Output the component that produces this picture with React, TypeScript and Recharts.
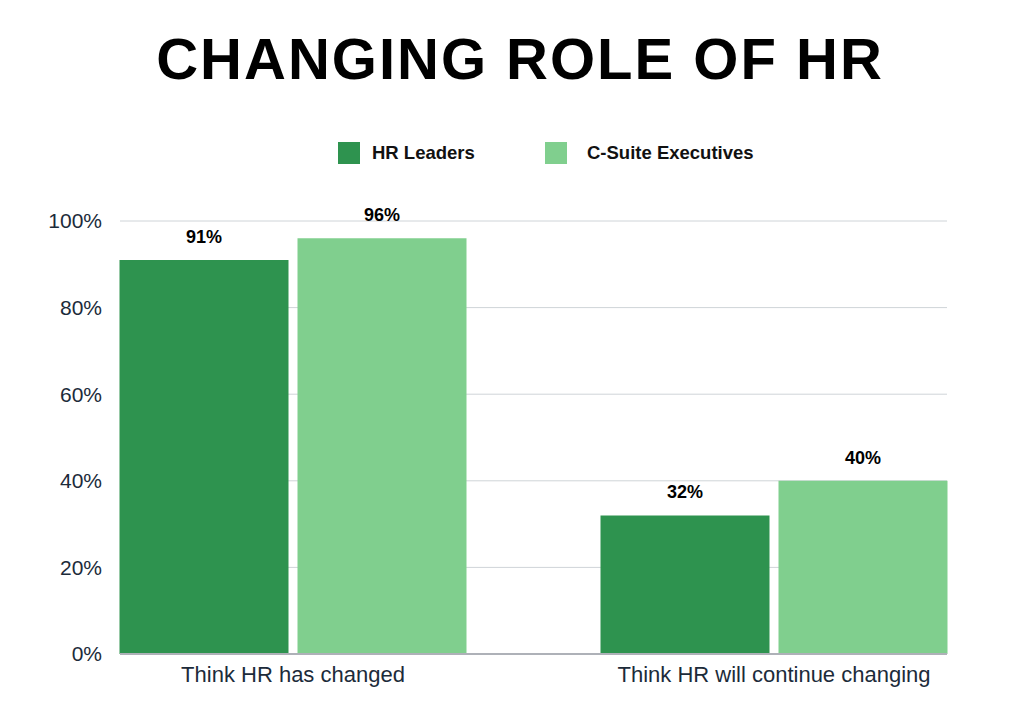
import React from "react";
import { BarChart, Bar, XAxis, YAxis, CartesianGrid, LabelList } from "recharts";

const categories = ["Think HR has changed", "Think HR will continue changing"];
const hrLeaders = [91, 32];
const cSuite = [96, 40];
const yTicks = [0, 20, 40, 60, 80, 100];

const DARK = "#2e934f";
const LIGHT = "#80cf8e";
const FONT = "'Liberation Sans', Arial, sans-serif";

const data = categories.map((name, i) => ({
  name,
  hr: hrLeaders[i],
  csuite: cSuite[i],
}));

function LegendBox() {
  const item = (color: string, label: string, left: number, gap: number) => (
    <div style={{ position: "absolute", left, top: 142, display: "flex", alignItems: "center" }}>
      <div style={{ width: 22, height: 22, background: color }} />
      <span style={{ marginLeft: gap, fontSize: 18.5, fontWeight: 700, fontFamily: FONT, color: "#111" }}>
        {label}
      </span>
    </div>
  );
  return (
    <>
      {item(DARK, "HR Leaders", 338, 12)}
      {item(LIGHT, "C-Suite Executives", 545, 20)}
    </>
  );
}

export default function App() {
  return (
    <div style={{ position: "absolute", left: 0, top: 0, width: 1024, height: 706, background: "#fff" }}>
      <div
        style={{
          position: "absolute",
          left: 8,
          top: 25,
          width: 1024,
          textAlign: "center",
          fontFamily: FONT,
          fontWeight: 700,
          fontSize: 58,
          letterSpacing: 2,
          color: "#000",
        }}
      >
        CHANGING ROLE OF HR
      </div>
      <LegendBox />
      <div style={{ position: "absolute", left: 0, top: 0 }}>
        <BarChart
          width={1024}
          height={706}
          data={data}
          margin={{ top: 221, right: 77, bottom: 0, left: 0 }}
          barSize={169}
          barGap={9}
        >
          <CartesianGrid vertical={false} stroke="#cfd4d8" />
          <XAxis
            dataKey="name"
            height={52}
            padding={{ left: -67.5, right: -67.5 }}
            tickSize={0}
            tickMargin={12}
            axisLine={{ stroke: "#aeb1b8", strokeWidth: 2 }}
            tick={{ fill: "#1c2b3a", fontSize: 22, fontFamily: FONT }}
          />
          <YAxis
            width={120}
            domain={[0, 100]}
            ticks={yTicks}
            tickFormatter={(v) => `${v}%`}
            axisLine={false}
            tickLine={false}
            tickSize={0}
            tickMargin={18}
            tick={{ fill: "#1c2b3a", fontSize: 21, fontFamily: FONT }}
          />
          <Bar dataKey="hr" fill={DARK} isAnimationActive={false}>
            <LabelList
              dataKey="hr"
              position="top"
              offset={17}
              formatter={(v: number) => `${v}%`}
              style={{ fill: "#000", fontSize: 18, fontWeight: 700, fontFamily: FONT }}
            />
          </Bar>
          <Bar dataKey="csuite" fill={LIGHT} isAnimationActive={false}>
            <LabelList
              dataKey="csuite"
              position="top"
              offset={17}
              formatter={(v: number) => `${v}%`}
              style={{ fill: "#000", fontSize: 18, fontWeight: 700, fontFamily: FONT }}
            />
          </Bar>
        </BarChart>
      </div>
    </div>
  );
}
